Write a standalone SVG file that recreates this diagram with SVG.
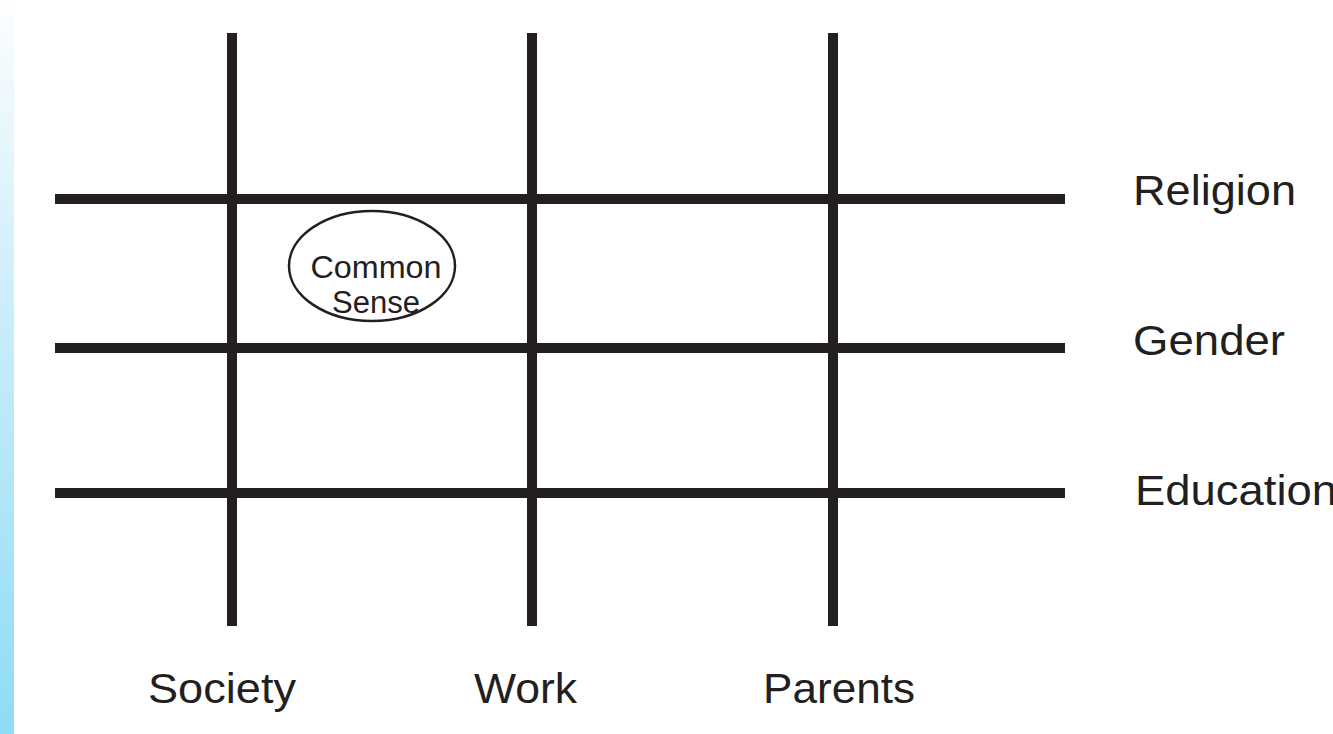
<svg xmlns="http://www.w3.org/2000/svg" width="1333" height="734" viewBox="0 0 1333 734">
<style>
.ln{stroke:#231f20;stroke-width:10;fill:none}
.lbl{font-family:"Liberation Sans",Arial,sans-serif;font-size:42px;fill:#231f20}
.cs{font-family:"Liberation Sans",Arial,sans-serif;font-size:31px;fill:#231f20}
</style>
<defs>
<linearGradient id="strip" x1="0" y1="0" x2="0" y2="1">
<stop offset="0" stop-color="#fdfeff"/>
<stop offset="0.4" stop-color="#cdeefa"/>
<stop offset="1" stop-color="#8edcf6"/>
</linearGradient>
</defs>
<rect width="1333" height="734" fill="#ffffff"/>
<rect x="0" y="0" width="14" height="734" fill="url(#strip)"/>
<g id="connectors">
<line class="ln" x1="232" y1="33" x2="232" y2="626"/>
<line class="ln" x1="532" y1="33" x2="532" y2="626"/>
<line class="ln" x1="833" y1="33" x2="833" y2="626"/>
<line class="ln" x1="55" y1="199" x2="1065" y2="199"/>
<line class="ln" x1="55" y1="348" x2="1065" y2="348"/>
<line class="ln" x1="55" y1="493" x2="1065" y2="493"/>
</g>
<g id="common-sense">
<ellipse cx="372" cy="266" rx="83" ry="55" fill="#ffffff" stroke="#231f20" stroke-width="2.5"/>
<text class="cs" x="376" y="278" text-anchor="middle" textLength="131" lengthAdjust="spacingAndGlyphs">Common</text>
<text class="cs" x="376" y="313" text-anchor="middle" textLength="88" lengthAdjust="spacingAndGlyphs">Sense</text>
</g>
<g id="religion"><text class="lbl" x="1133" y="205" textLength="163" lengthAdjust="spacingAndGlyphs">Religion</text></g>
<g id="gender"><text class="lbl" x="1133" y="355" textLength="152" lengthAdjust="spacingAndGlyphs">Gender</text></g>
<g id="education"><text class="lbl" x="1135" y="505" textLength="202" lengthAdjust="spacingAndGlyphs">Education</text></g>
<g id="society"><text class="lbl" x="148" y="703" textLength="148" lengthAdjust="spacingAndGlyphs">Society</text></g>
<g id="work"><text class="lbl" x="474" y="703" textLength="103" lengthAdjust="spacingAndGlyphs">Work</text></g>
<g id="parents"><text class="lbl" x="763" y="703" textLength="152" lengthAdjust="spacingAndGlyphs">Parents</text></g>
</svg>
